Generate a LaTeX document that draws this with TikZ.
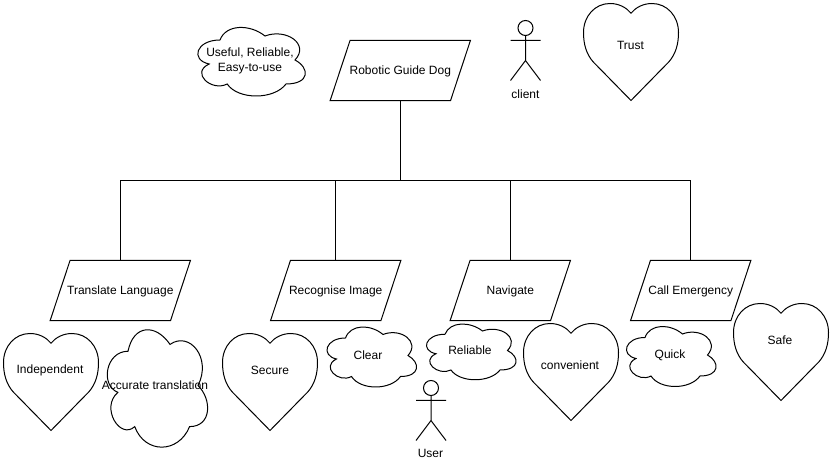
\documentclass[tikz,border=0pt]{standalone}
\usepackage{fontspec}
\setmainfont{Liberation Sans}
\usetikzlibrary{calc}
\tikzset{
  px/.style={x=1pt,y=-1pt},
  outline/.style={draw=black,line width=1pt,line join=miter,fill=white},
  label/.style={inner sep=0pt,font=\fontsize{12}{15}\selectfont,align=center},
  tag/.style={label,yshift=-.4pt},
  boxnode/.style={label,minimum width=#1,minimum height=60pt,text height=10pt,text depth=2.6pt},
  wire/.style={draw=black,line width=1pt}
}
% \cloudat{x}{y}{w}{h}: draw.io cloud outline in a box
\newcommand{\cloudat}[4]{%
  \begin{scope}[shift={(#1,#2)},x=#3pt,y=-#4pt]
  \draw[outline] (.25,.25) .. controls (.05,.25) and (0,.5) .. (.16,.55)
   .. controls (0,.66) and (.18,.9) .. (.31,.8)
   .. controls (.4,1) and (.7,1) .. (.8,.8)
   .. controls (1,.8) and (1,.6) .. (.875,.5)
   .. controls (1,.3) and (.8,.1) .. (.625,.2)
   .. controls (.5,.05) and (.3,.05) .. (.25,.25) -- cycle;
  \end{scope}}
% \heartat{x}{y}{w}{h}
\newcommand{\heartat}[4]{%
  \begin{scope}[shift={(#1,#2)},x=#3pt,y=-#4pt]
  \draw[outline] (.5,1) -- (.1,.6)
   .. controls (.03,.52) and (0,.42) .. (0,.3)
   .. controls (0,.13) and (.12,0) .. (.28,0)
   .. controls (.37,0) and (.45,.04) .. (.5,.1)
   .. controls (.55,.04) and (.63,0) .. (.72,0)
   .. controls (.88,0) and (1,.13) .. (1,.3)
   .. controls (1,.42) and (.97,.52) .. (.9,.6) -- cycle;
  \end{scope}}
% \actorat{x}{y}{w}{h}
\newcommand{\actorat}[4]{%
  \begin{scope}[shift={(#1,#2)},x=#3pt,y=-#4pt]
  \draw[wire,fill=white] (.5,.125) ellipse[x radius=.25,y radius=.125];
  \draw[wire] (.5,.25) -- (.5,.667) (0,.333) -- (1,.333) (0,1) -- (.5,.667) -- (1,1);
  \end{scope}}
% \paraover{node}{skew}
\newcommand{\paraover}[2]{%
  \draw[wire] ($(#1.south west)$) -- ($(#1.north west)+(#2,0)$) -- (#1.north east) -- ($(#1.south east)-(#2,0)$) -- cycle;}
\begin{document}
\begin{tikzpicture}[px]
\useasboundingbox (0,0) rectangle (831,462);
\fill[white] (0,0) rectangle (831,462);
% parallelograms
\node[boxnode=140pt] (root) at (400.3,70.5) {Robotic Guide Dog};
\node[boxnode=140pt] (translate) at (120.3,290.5) {Translate Language};
\node[boxnode=130pt] (recognise) at (335.7,290.5) {Recognise Image};
\node[boxnode=120pt] (navigate) at (510.3,290.5) {Navigate};
\node[boxnode=120pt] (call) at (690.7,290.5) {Call Emergency};
\paraover{root}{20}
\paraover{translate}{20}
\paraover{recognise}{20}
\paraover{navigate}{20}
\paraover{call}{20}
\coordinate (bus) at (400.3,180.5);
\draw[wire] (root.south) -- (bus);
\draw[wire] (translate.north) |- (bus);
\draw[wire] (recognise.north) |- (bus);
\draw[wire] (navigate.north) |- (bus);
\draw[wire] (call.north) |- (bus);
% hearts
\heartat{583.5}{3.5}{95}{97}
\node[tag] (trust) at (630.5,45) {Trust};
\heartat{3.5}{333.5}{95}{97}
\heartat{222.5}{333.5}{95}{97}
\heartat{523.5}{323.5}{95}{97}
\heartat{733.5}{303.5}{95}{97}
\node[tag] (independent) at (50,369.5) {Independent};
\node[tag] (secure) at (270,369.5) {Secure};
\node[tag] (convenient) at (570,364.5) {convenient};
\node[tag] (safe) at (780,339.5) {Safe};
% clouds
\cloudat{190}{20}{120}{80}
\node[tag] (useful) at (250,60.5) {Useful, Reliable,\\Easy-to-use};
\cloudat{100}{317}{112}{137}
\node[tag] (accurate) at (155,384.5) {Accurate translation};
\cloudat{320.5}{320.5}{100}{70}
\node[tag] (clear) at (368,354.5) {Clear};
\cloudat{420}{318}{100}{65}
\node[tag] (reliable) at (470,349.5) {Reliable};
\cloudat{620}{320}{100}{70}
\node[tag] (quick) at (670,354.5) {Quick};
% actors
\actorat{510.5}{20.5}{30}{60}
\node[tag] (client) at (525.5,93.5) {client};
\actorat{416}{380.5}{30}{60}
\node[tag] (user) at (430.5,453.5) {User};
\end{tikzpicture}
\end{document}
